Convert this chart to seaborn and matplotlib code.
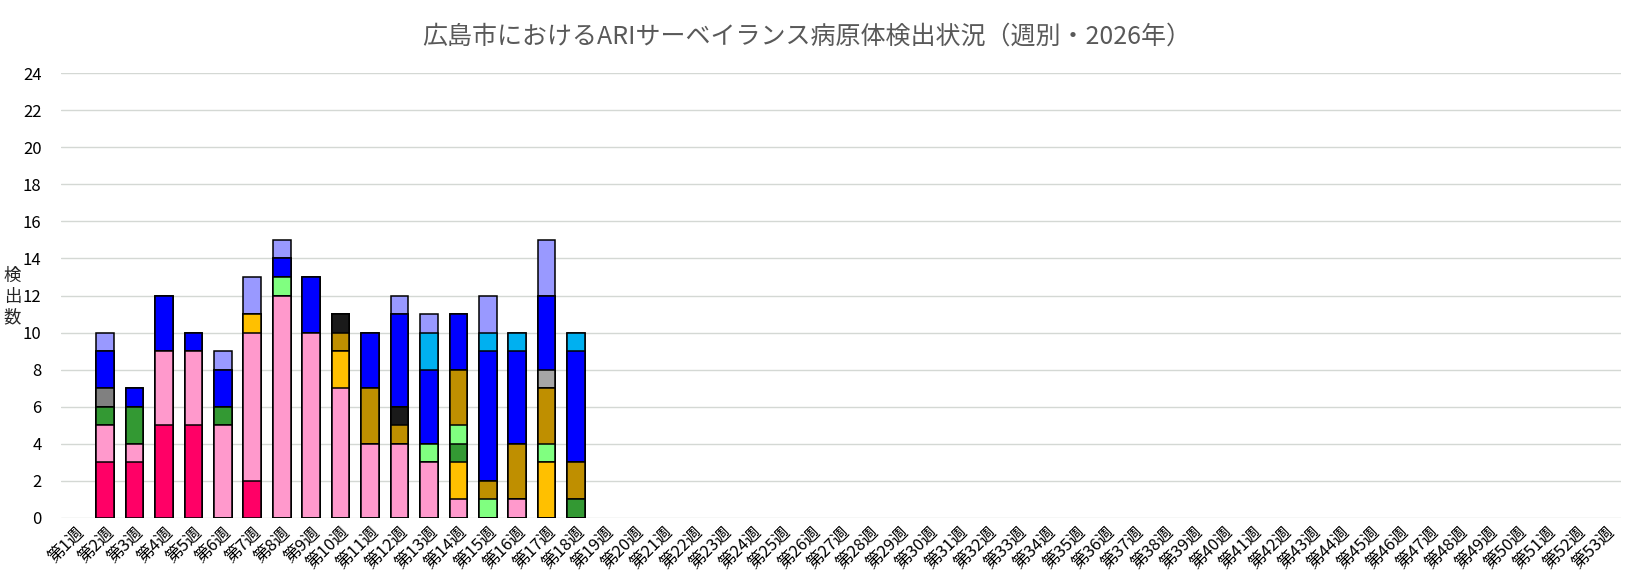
import numpy as np
import pandas as pd
import seaborn as sns
import matplotlib
matplotlib.use('Agg')
import matplotlib.pyplot as plt

# 週ラベル（第1週〜第53週）
weeks = [f'第{i}週' for i in range(1, 54)]
# データがある週（第2週〜第18週）
data_weeks = [f'第{i}週' for i in range(2, 19)]

# 病原体ごとの検出数（下から積み上げる順）
s_crimson = [3, 3, 5, 5, 0, 2, 0, 0, 0, 0, 0, 0, 0, 0, 0, 0, 0]
s_pink = [2, 1, 4, 4, 5, 8, 12, 10, 7, 4, 4, 3, 1, 0, 1, 0, 0]
s_yellow = [0, 0, 0, 0, 0, 1, 0, 0, 2, 0, 0, 0, 2, 0, 0, 3, 0]
s_green = [1, 2, 0, 0, 1, 0, 0, 0, 0, 0, 0, 0, 1, 0, 0, 0, 1]
s_lightgreen = [0, 0, 0, 0, 0, 0, 1, 0, 0, 0, 0, 1, 1, 1, 0, 1, 0]
s_darkgold = [0, 0, 0, 0, 0, 0, 0, 0, 1, 3, 1, 0, 3, 1, 3, 3, 2]
s_black = [0, 0, 0, 0, 0, 0, 0, 0, 1, 0, 1, 0, 0, 0, 0, 0, 0]
s_grey = [1, 0, 0, 0, 0, 0, 0, 0, 0, 0, 0, 0, 0, 0, 0, 0, 0]
s_lightgrey = [0, 0, 0, 0, 0, 0, 0, 0, 0, 0, 0, 0, 0, 0, 0, 1, 0]
s_blue = [2, 1, 3, 1, 2, 0, 1, 3, 0, 3, 5, 4, 3, 7, 5, 4, 6]
s_sky = [0, 0, 0, 0, 0, 0, 0, 0, 0, 0, 0, 2, 0, 1, 1, 0, 1]
s_lavender = [1, 0, 0, 0, 1, 2, 1, 0, 0, 0, 1, 1, 0, 2, 0, 3, 0]

series = [s_crimson, s_pink, s_yellow, s_green, s_lightgreen, s_darkgold,
          s_black, s_grey, s_lightgrey, s_blue, s_sky, s_lavender]
colors = ['#FF0066', '#FF99CC', '#FFC000', '#339933', '#80FF80', '#BF8F00',
          '#1A1A1A', '#808080', '#A6A6A6', '#0000FF', '#00B0F0', '#9999FF']

sns.set_theme(style='whitegrid')
plt.rcParams['font.family'] = ['Noto Sans CJK JP', 'DejaVu Sans']

fig = plt.figure(figsize=(16.3, 5.79), dpi=100)
ax = fig.add_axes([61 / 1630, 61 / 579, 1560 / 1630, 445 / 579])

# 累積値を上の系列から順に描画して積み上げ棒を作る
cum = np.cumsum(np.array(series, dtype=float), axis=0)
for i in range(len(series) - 1, -1, -1):
    df = pd.DataFrame({'week': data_weeks, 'value': cum[i]})
    sns.barplot(data=df, x='week', y='value', order=weeks, color=colors[i],
                saturation=1, width=0.6, edgecolor='black', linewidth=1.1,
                errorbar=None, ax=ax)

ax.set_ylim(0, 24)
ax.set_yticks(range(0, 25, 2))
ax.set_xlim(-0.5, len(weeks) - 0.5)
ax.set_xlabel('')
ax.set_ylabel('')
ax.set_axisbelow(True)
ax.yaxis.grid(True, color='#D4D8D4', linewidth=1)
ax.xaxis.grid(False)
for s in ax.spines.values():
    s.set_visible(False)
ax.tick_params(axis='both', length=0, labelsize=12, colors='#000000')
ax.tick_params(axis='y', pad=14)
ax.tick_params(axis='x', pad=4)
plt.setp(ax.get_xticklabels(), rotation=45, ha='right', rotation_mode='anchor')

fig.text(0.495, 0.936, '広島市におけるARIサーベイランス病原体検出状況（週別・2026年）',
         ha='center', va='center', fontsize=18, color='#595959')
fig.text(0.0075, 0.487, '検\n出\n数', ha='center', va='center',
         fontsize=12.5, linespacing=1.2)

fig.savefig('out.png', dpi=100)
